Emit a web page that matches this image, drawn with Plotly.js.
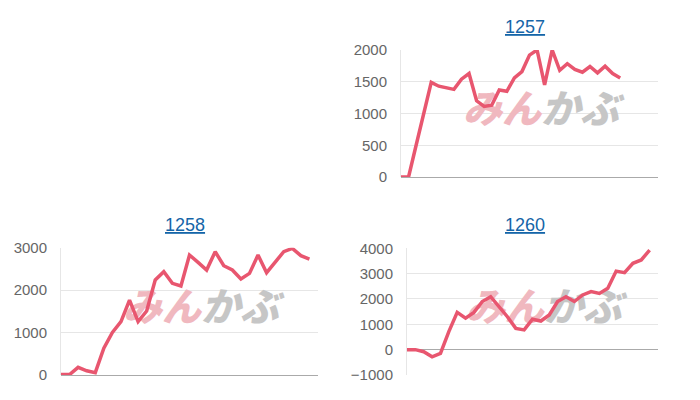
<!DOCTYPE html>
<html>
<head>
<meta charset="utf-8">
<script src="https://cdn.plot.ly/plotly-3.0.1.min.js"></script>
<style>html,body{margin:0;padding:0;background:#fff;}#chart{width:700px;height:400px;}</style>
</head>
<body>
<div id="chart"></div>
<script>
// Chart titles (codes)
const codes = ["1257", "1258", "1260"];
// Number of x slots on each axis
const slots1257 = 35;
const slots1258 = 31;
const slots1260 = 31;
// Series values (30 daily points each)
const values1257 = [0, 0, 500, 1000, 1490, 1430, 1410, 1380, 1540, 1630, 1200, 1110, 1130, 1370, 1350, 1560, 1660, 1920, 2000, 1450, 2000, 1680, 1785, 1695, 1650, 1740, 1640, 1745, 1630, 1560];
const values1258 = [10, 10, 180, 100, 55, 630, 1005, 1257, 1767, 1257, 1508, 2238, 2435, 2160, 2097, 2827, 2654, 2474, 2906, 2576, 2474, 2262, 2395, 2827, 2411, 2654, 2906, 2984, 2812, 2733];
const values1260 = [0, 0, -80, -280, -150, 710, 1470, 1240, 1470, 1900, 2090, 1700, 1300, 840, 780, 1200, 1130, 1370, 1900, 2090, 1900, 2160, 2290, 2220, 2420, 3100, 3040, 3410, 3540, 3930];
// Y ranges and tick steps
const yRange1257 = [0, 2000], dtick1257 = 500;
const yRange1258 = [0, 3000], dtick1258 = 1000;
const yRange1260 = [-1000, 4000], dtick1260 = 1000;

const lineColor = "#e8566f";
const idx = n => Array.from({length: n}, (_, i) => i);

function lineTrace(vals, xa, ya) {
  return {x: idx(vals.length), y: vals, type: "scatter", mode: "lines",
    line: {color: lineColor, width: 3.5}, xaxis: xa, yaxis: ya,
    hoverinfo: "y", showlegend: false};
}
const wmText = '<span style="color:#f0b8bf">みん</span><span style="color:#c6c6c6">かぶ</span>';
function wmTrace(slots, yr, fy, xa, ya) {
  return {x: [(slots - 1) * 0.545], y: [yr[0] + (yr[1] - yr[0]) * fy], type: "scatter", mode: "text",
    text: [wmText], textposition: "middle center",
    textfont: {family: "Noto Sans CJK JP", size: 39, weight: 900, style: "italic"},
    xaxis: xa, yaxis: ya, hoverinfo: "skip", showlegend: false};
}

const data = [
  wmTrace(slots1257, yRange1257, 0.5, "x", "y"),
  wmTrace(slots1258, yRange1258, 0.5, "x2", "y2"),
  wmTrace(slots1260, yRange1260, 0.5, "x3", "y3"),
  lineTrace(values1257, "x", "y"),
  lineTrace(values1258, "x2", "y2"),
  lineTrace(values1260, "x3", "y3")
];

const tickFont = {family: "Liberation Sans, Arial, sans-serif", size: 15, color: "#666"};
function xax(slots, dom, anchor) {
  return {domain: dom, range: [0, slots - 1], showgrid: false, zeroline: false,
    showticklabels: false, ticks: "", anchor: anchor, fixedrange: true};
}
function yax(yr, dt, dom, anchor) {
  return {domain: dom, range: yr, dtick: dt, tick0: 0, showgrid: true, gridcolor: "#e6e6e6", gridwidth: 1,
    zeroline: true, zerolinecolor: "#aaa", zerolinewidth: 1,
    showline: true, linecolor: "#e6e6e6", linewidth: 1,
    tickfont: tickFont, ticks: "", ticklabelstandoff: 10, anchor: anchor, fixedrange: true};
}
const titleFont = {family: "Liberation Sans, Arial, sans-serif", size: 18, color: "#1565a8", lineposition: "under"};
function titleAnn(text, x, y) {
  return {text: text, xref: "paper", yref: "paper", x: x, y: y, xanchor: "center", yanchor: "middle",
    showarrow: false, font: titleFont};
}

const layout = {
  width: 700, height: 400,
  margin: {l: 0, r: 0, t: 0, b: 0},
  paper_bgcolor: "#fff", plot_bgcolor: "#fff",
  showlegend: false,
  xaxis: xax(slots1257, [401/700, 658/700], "y"),
  yaxis: yax(yRange1257, dtick1257, [1 - 177/400, 1 - 50/400], "x"),
  xaxis2: xax(slots1258, [61/700, 318/700], "y2"),
  yaxis2: yax(yRange1258, dtick1258, [1 - 375/400, 1 - 247.7/400], "x2"),
  xaxis3: xax(slots1260, [407/700, 658/700], "y3"),
  yaxis3: yax(yRange1260, dtick1260, [1 - 375/400, 1 - 248.3/400], "x3"),
  annotations: [
    titleAnn(codes[0], 525/700, 1 - 27/400),
    titleAnn(codes[1], 185/700, 1 - 225/400),
    titleAnn(codes[2], 525/700, 1 - 225/400)
  ]
};

Plotly.newPlot("chart", data, layout, {displayModeBar: false, staticPlot: true});
</script>
</body>
</html>
